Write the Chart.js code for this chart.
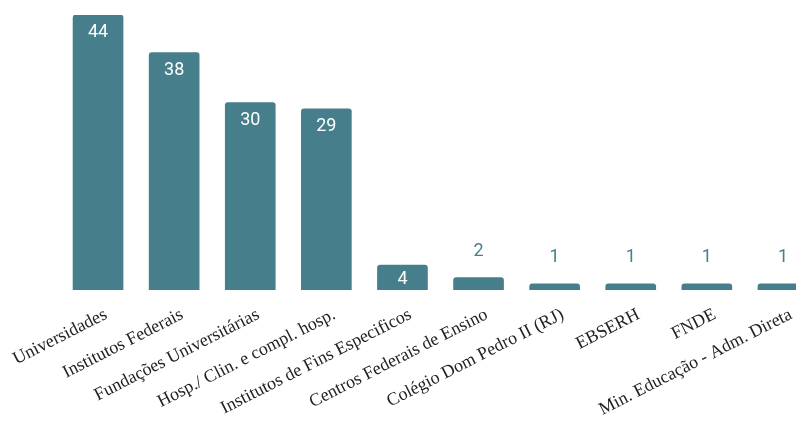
<!DOCTYPE html>
<html>
<head>
<meta charset="utf-8">
<script src="https://cdn.jsdelivr.net/npm/chart.js@4"></script>
<style>
  html, body { margin: 0; padding: 0; background: #ffffff; overflow: hidden; }
  #wrap { position: relative; width: 822px; height: 421px; }
</style>
</head>
<body>
<div id="wrap"><canvas id="c"></canvas></div>
<script>
// Institutions by type
const categories = [
  'Universidades',
  'Institutos Federais',
  'Fundações Universitárias',
  'Hosp./ Clin. e compl. hosp.',
  'Institutos de Fins Especificos',
  'Centros Federais de Ensino',
  'Colégio Dom Pedro II (RJ)',
  'EBSERH',
  'FNDE',
  'Min. Educação - Adm. Direta'
];
const counts = [44, 38, 30, 29, 4, 2, 1, 1, 1, 1];

const barColor = '#467f8b';

// Value labels: white inside tall bars, teal above short ones
const valueLabels = {
  id: 'valueLabels',
  afterDatasetsDraw(chart) {
    const ctx = chart.ctx;
    const meta = chart.getDatasetMeta(0);
    ctx.save();
    ctx.font = '18px Roboto';
    ctx.textAlign = 'center';
    ctx.textBaseline = 'alphabetic';
    meta.data.forEach((bar, i) => {
      const v = chart.data.datasets[0].data[i];
      const top = bar.y, base = bar.base;
      if (base - top > 20) {
        ctx.fillStyle = '#ffffff';
        const y = Math.min(top + 22, (top + base) / 2 + 6.3);
        ctx.fillText(String(v), bar.x, y);
      } else {
        ctx.fillStyle = barColor;
        ctx.fillText(String(v), bar.x, top - 21.5);
      }
    });
    ctx.restore();
  }
};

new Chart(document.getElementById('c'), {
  type: 'bar',
  data: {
    labels: categories,
    datasets: [{
      data: counts,
      backgroundColor: barColor,
      borderRadius: 3,
      borderSkipped: 'start',
      barThickness: 50
    }]
  },
  options: {
    responsive: true,
    maintainAspectRatio: false,
    animation: false,
    layout: { padding: { top: 15, left: 60, right: 1, bottom: 0 } },
    plugins: {
      legend: { display: false },
      tooltip: { enabled: false }
    },
    scales: {
      x: {
        grid: { display: false, drawTicks: false },
        border: { display: false },
        ticks: {
          color: '#222222',
          font: { family: 'Liberation Serif', size: 18 },
          minRotation: 27,
          maxRotation: 27,
          autoSkip: false,
          padding: 14,
          labelOffset: 8
        },
        afterFit(scale) {
          // fixed band for the slanted labels; bars span the full width
          scale.height = 131;
          scale.paddingLeft = 0;
          scale.paddingRight = 0;
        }
      },
      y: {
        display: false,
        min: 0,
        max: 44
      }
    }
  },
  plugins: [valueLabels]
});
</script>
</body>
</html>
